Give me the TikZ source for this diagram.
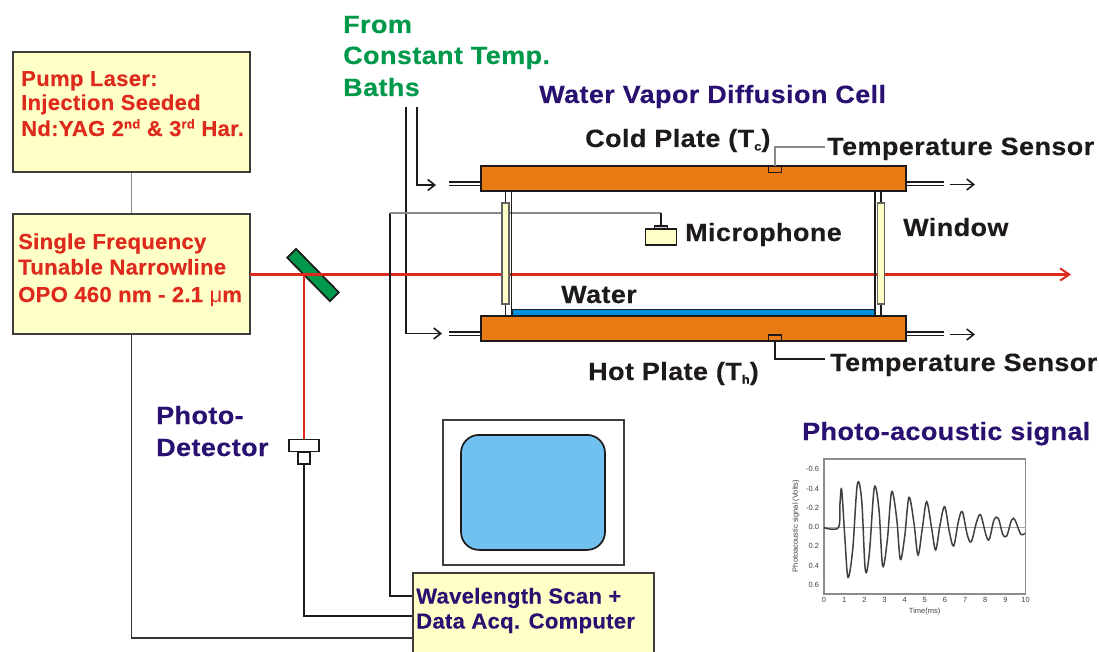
\documentclass[tikz,border=0pt]{standalone}
\usepackage{fontspec}
\setmainfont{Liberation Sans}
\newfontfamily\widefont[FakeStretch=1.08,LetterSpace=1.6,BoldFont={Liberation Sans Bold},BoldFeatures={FakeBold=0.25}]{Liberation Sans}
\newfontfamily\midfont[FakeStretch=1.02,LetterSpace=1.2,BoldFont={Liberation Sans Bold},BoldFeatures={FakeBold=0.15}]{Liberation Sans}
\usetikzlibrary{arrows.meta}
\definecolor{lab}{HTML}{1E1A1A}
\definecolor{rd}{HTML}{DE2A1C}
\definecolor{gn}{HTML}{00984A}
\definecolor{nv}{HTML}{2A1070}
\definecolor{yl}{HTML}{FFFFC8}
\definecolor{og}{HTML}{E87B14}
\definecolor{wt}{HTML}{0090E0}
\definecolor{sc}{HTML}{70C0F0}
\definecolor{gy}{HTML}{8A8A8A}
\newcommand{\supr}[1]{\raisebox{7.5pt}{\fontsize{13}{13}\selectfont #1}}
\newcommand{\subr}[1]{\raisebox{-3.5pt}{\fontsize{12}{12}\selectfont #1}}
\tikzset{
 x=1pt,y=-1pt,
 txt/.style={anchor=base west,inner sep=0pt,font=\widefont\fontsize{25}{25}\selectfont\bfseries},
 smallt/.style={anchor=base west,inner sep=0pt,font=\midfont\fontsize{21.7}{22}\selectfont\bfseries},
 redt/.style={smallt,text=rd},
 gnt/.style={txt,text=gn},
 nvt/.style={txt,text=nv},
 blk/.style={txt,text=lab},
 ybox/.style={draw=lab!85,fill=yl,line width=2pt,inner sep=0pt},
 plate/.style={draw=lab,fill=og,line width=1.9pt,inner sep=0pt,minimum width=425pt,minimum height=25pt},
 wnd/.style={draw=gy!70!black,fill=yl,line width=1.6pt,inner sep=0pt,minimum width=7pt,minimum height=101pt},
 wire/.style={draw=lab,line width=1.8pt},
 thinw/.style={draw=black!80,line width=1.6pt},
 stub/.style={draw=lab,line width=1.5pt},
 flow/.style={wire,-{Straight Barb[length=7pt,width=11pt,line width=1.6pt]}},
 beam/.style={draw=rd,line width=2.4pt},
 tick/.style={inner sep=0pt,text=black!75,font=\fontsize{7.5}{7.5}\selectfont\rmfamily}
}
\begin{document}
\begin{tikzpicture}
\useasboundingbox (0,0) rectangle (1099,652);
% boxes
\node[ybox,minimum width=237pt,minimum height=120pt] (pump) at (131.5,112) {};
\node[ybox,minimum width=237pt,minimum height=120pt] (opo) at (131.5,274) {};
\draw[draw=gy,line width=1.2pt] (pump.south) -- (opo.north);
\node[redt] (p1) at (21,86) {Pump Laser:};
\node[redt] (p2) at (21,110) {Injection Seeded};
\node[redt] (p3) at (21,136) {Nd:YAG 2\supr{nd} \& 3\supr{rd} Har.};
\node[redt] (o1) at (18,249) {Single Frequency};
\node[redt] (o2) at (18,274.5) {Tunable Narrowline};
\node[redt] (o3) at (18,302) {OPO 460 nm - 2.1 {\mdseries μ}m};
% temp bath flows
\node[gnt] (f1) at (343,33) {From};
\node[gnt] (f2) at (343,64) {Constant Temp.};
\node[gnt] (f3) at (343,96) {Baths};
\coordinate (a1) at (406,107); \coordinate (a2) at (417,107);
\coordinate (a1e) at (442,333.5); \coordinate (a2e) at (436,185);
\draw[flow] (a1) |- (a1e);
\draw[flow] (a2) |- (a2e);
% mirror and beam
\node[draw=lab,fill=gn,line width=1.7pt,minimum width=61pt,minimum height=12.5pt,inner sep=0pt,rotate=-45.5] (mir) at (313,275) {};
\coordinate (bs) at (250,274.5); \coordinate (be) at (1071,274.5); \coordinate (bd) at (304,274.5);
\draw[beam,-{Straight Barb[length=9pt,width=12pt,line width=2pt]}] (bs) -- (be);
% detector
\node[draw=lab,fill=white,line width=1.7pt,minimum width=30pt,minimum height=12pt,inner sep=0pt] (det) at (304,445.5) {};
\node[draw=lab,fill=white,line width=1.7pt,minimum width=12.5pt,minimum height=12.5pt,inner sep=0pt] (det2) at (304,458) {};
\draw[beam] (bd) -- (det.north);
\node[nvt] (ph1) at (156,424) {Photo-};
\node[nvt] (ph2) at (156,456) {Detector};
% computer
\node[ybox,minimum width=241pt,minimum height=90pt] (comp) at (533.5,618) {};
\coordinate (c1) at (comp.west |- 0,596); \coordinate (c2) at (comp.west |- 0,616); \coordinate (c3) at (comp.west |- 0,638);
\draw[thinw] (opo.south) |- (c3);
\draw[wire] (det2.south) |- (c2);
\node[smallt,text=nv] (w1) at (416,603.5) {Wavelength Scan +};
\node[smallt,text=nv] (w2) at (416,628.5) {Data Acq. Computer};
% monitor
\node[draw=lab!85,line width=1.7pt,fill=white,minimum width=181pt,minimum height=144.7pt,inner sep=0pt] (mon) at (533.2,492.4) {};
\node[draw=lab,fill=sc,line width=1.7pt,rounded corners=18pt,minimum width=144pt,minimum height=115pt,inner sep=0pt] (scr) at (533,492.4) {};
% microphone wires
\node[draw=lab,fill=yl,line width=1.7pt,minimum width=31pt,minimum height=15.5pt,inner sep=0pt] (mic) at (661,237) {};
\node[draw=lab,fill=gy!40,line width=1.2pt,minimum width=13pt,minimum height=3pt,inner sep=0pt] (mic2) at (661,227.5) {};
\coordinate (mt) at (390,213);
\draw[wire] (c1) -| (mt);
\draw[draw=gy,line width=1.6pt] (mt) -- (mic2.north |- mt);
\draw[wire] (mic2.north |- mt) -- (mic2.north);
% plates stubs
\node[plate] (cold) at (693.5,178.5) {};
\node[plate] (hot) at (693.5,328.5) {};
\draw[stub] (449,182) -- (cold.west |- 0,182) (449,185.5) -- (cold.west |- 0,185.5);
\draw[stub] (449,332) -- (hot.west |- 0,332) (449,335.5) -- (hot.west |- 0,335.5);
\draw[stub] (cold.east |- 0,182) -- (944,182) (cold.east |- 0,185.5) -- (944,185.5);
\draw[stub] (hot.east |- 0,332) -- (944,332) (hot.east |- 0,335.5) -- (944,335.5);
\coordinate (o1s) at (950,184.5); \coordinate (o1e) at (975,184.5);
\coordinate (o2s) at (950,334.5); \coordinate (o2e) at (975,334.5);
\draw[flow] (o1s) -- (o1e);
\draw[flow] (o2s) -- (o2e);
% water
\node[draw=lab,fill=wt,line width=1.2pt,minimum width=363pt,minimum height=6.5pt,inner sep=0pt] (wat) at (693.5,312.5) {};
% walls and windows
\coordinate (wl1) at (511.5,191); \coordinate (wl2) at (511.5,316);
\coordinate (wr1) at (875,191); \coordinate (wr2) at (875,316);
\draw[wire] (wl1) -- (wl2);
\draw[wire] (wr1) -- (wr2);
\node[wnd] (wl) at (505.5,253.5) {};
\node[wnd] (wr) at (881,253.5) {};
\draw[wire] (wl.north |- cold.south) -- (wl.north) (wl.south) -- (wl.south |- hot.north);
\draw[wire] (wr.north |- cold.south) -- (wr.north) (wr.south) -- (wr.south |- hot.north);
% sensors
\node[draw=lab,fill=og,line width=1.5pt,minimum width=13pt,minimum height=6pt,inner sep=0pt] (s1) at (775,169.5) {};
\node[draw=lab,fill=og,line width=1.5pt,minimum width=13pt,minimum height=6pt,inner sep=0pt] (s2) at (775,338) {};
\node[blk] (ts1) at (827,155) {Temperature Sensor};
\node[blk] (ts2) at (830,371) {Temperature Sensor};
\coordinate (l1) at (825,147); \coordinate (l2) at (825,359);
\draw[draw=gy,line width=1.3pt] (s1.north) |- (l1);
\draw[wire] (s2.south) |- (l2);
% labels
\node[nvt] (title) at (539,103) {Water Vapor Diffusion Cell};
\node[blk] (ct) at (585,147) {Cold Plate (T\subr{c})};
\node[blk] (ht) at (588,380) {Hot Plate (T\subr{h})};
\node[blk] (micl) at (685,241) {Microphone};
\node[blk] (wndl) at (903,236) {Window};
\node[blk] (watl) at (561,303) {Water};
\node[nvt] (pas) at (802,440) {Photo-acoustic signal};
% plot
\begin{scope}[shift={(780,440)},x=0.3333pt,y=-0.3333pt]
\draw[draw=black!45,line width=1.3pt] (132,57) rectangle (737,462);
\draw[draw=black!35,line width=1.1pt] (132,262) -- (737,262);
\foreach \v/\y in {-0.6/88,-0.4/146,-0.2/204,0.0/262,0.2/319,0.4/377,0.6/435}
  \node[tick,anchor=east] at (118,\y) {\v};
\foreach \t in {0,...,10}
  \node[tick,anchor=north] at ({132+60.5*\t},472) {\t};
\node[tick] at (434,514) {Time(ms)};
\node[tick,rotate=90] at (48,258) {Photoacoustic signal (Volts)};
\draw[draw=black!75,line width=1.5pt] plot[smooth,tension=.55] coordinates {
 (132,263)(175,263)(180,190)(185,150)(195,300)(204,412)(218,330)(232,133)(245,180)(256,390)(268,340)(283,143)(297,210)(308,378)(322,300)(335,155)(350,235)(361,358)(374,290)(387,172)(402,250)(414,345)(427,265)(440,185)(455,265)(467,330)(480,255)(494,200)(508,275)(521,318)(535,245)(547,215)(562,285)(574,305)(590,245)(602,225)(618,285)(628,298)(642,240)(655,235)(668,282)(680,288)(695,240)(705,240)(722,282)(735,280)};
\end{scope}
\end{tikzpicture}
\end{document}
